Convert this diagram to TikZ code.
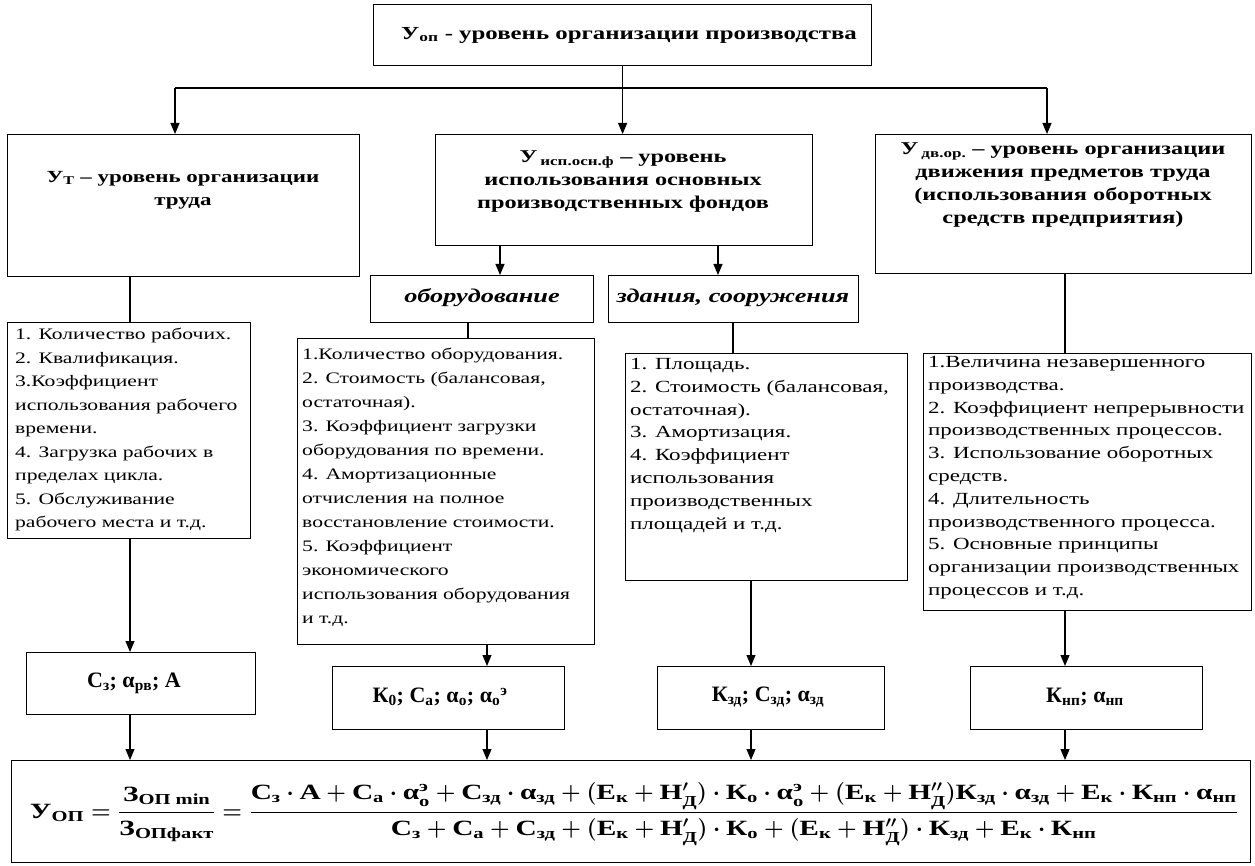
\documentclass[tikz,border=0pt]{standalone}
\usepackage{amsmath}
\usepackage{graphicx}
\usepackage{fontspec}
\setmainfont{Liberation Serif}[FakeStretch=1.35]
\newfontfamily\plainfont{Liberation Serif}
\usetikzlibrary{arrows.meta}
\newcommand{\tx}[1]{\text{#1}}
\begin{document}
\begin{tikzpicture}[x=1pt,y=-1pt,
  box/.style={draw, line width=1.2pt, inner sep=0pt, anchor=north west},
  arr/.style={line width=1.1pt, -{Triangle[length=11pt,width=9pt]}},
  ln/.style={line width=1.1pt},
  head/.style={font=\fontsize{18}{23}\selectfont\bfseries, align=center, inner sep=0pt},
  ital/.style={font=\fontsize{19.5}{23}\selectfont\bfseries\itshape, inner sep=0pt},
  lst/.style={align=left, anchor=north west, inner sep=0pt},
  res/.style={font=\plainfont\fontsize{22}{26}\selectfont\bfseries, inner sep=0pt}]
\fill[white] (0,0) rectangle (1255,866);
\useasboundingbox (0,0) rectangle (1255,866);
% boxes
\node[box, minimum width=498pt, minimum height=61pt] (T) at (373,4) {};
\node[box, minimum width=352pt, minimum height=142pt] (A) at (7,134) {};
\node[box, minimum width=377pt, minimum height=111pt] (B) at (435,134) {};
\node[box, minimum width=376pt, minimum height=139pt] (C) at (875,134) {};
\node[box, minimum width=223pt, minimum height=47pt] (I1) at (370,275) {};
\node[box, minimum width=250pt, minimum height=47pt] (I2) at (608,275) {};
\node[box, minimum width=243pt, minimum height=216pt] (L1) at (7,322) {};
\node[box, minimum width=297pt, minimum height=306pt] (L2) at (297,338) {};
\node[box, minimum width=282pt, minimum height=227pt] (L3) at (625,353) {};
\node[box, minimum width=328pt, minimum height=257pt] (L4) at (923,353) {};
\node[box, minimum width=229pt, minimum height=62pt] (P1) at (26,652) {};
\node[box, minimum width=232pt, minimum height=63pt] (P2) at (332,666) {};
\node[box, minimum width=227pt, minimum height=63pt] (P3) at (657,666) {};
\node[box, minimum width=232pt, minimum height=63pt] (P4) at (970,666) {};
\node[box, minimum width=1239pt, minimum height=102pt] (F) at (11,760) {};
% texts
\node[head, font=\fontsize{18.4}{21}\selectfont\bfseries] (Tt) at (629,35) {У\textsubscript{оп} - уровень организации производства};
\node[head, font=\fontsize{17}{23}\selectfont\bfseries] (At) at (183,190) {У\textsubscript{Т} – уровень организации\\труда};
\node[head] (Bt) at (623,182) {У\,\textsubscript{исп.осн.ф} – уровень\\использования основных\\производственных фондов};
\node[head] (Ct) at (1063,185) {У\,\textsubscript{дв.ор.} – уровень организации\\движения предметов труда\\(использования оборотных\\средств предприятия)};
\node[ital] (I1t) at (482,298) {оборудование};
\node[ital] (I2t) at (733,298) {здания, сооружения};
\node[lst, font=\fontsize{16}{23.5}\selectfont] (L1t) at (15,328) {1. Количество рабочих.\\2. Квалификация.\\3.Коэффициент\\использования рабочего\\времени.\\4. Загрузка рабочих в\\пределах цикла.\\5. Обслуживание\\рабочего места и т.д.};
\node[lst, font=\fontsize{16}{24}\selectfont] (L2t) at (302,348) {1.Количество оборудования.\\2. Стоимость (балансовая,\\остаточная).\\3. Коэффициент загрузки\\оборудования по времени.\\4. Амортизационные\\отчисления на полное\\восстановление стоимости.\\5. Коэффициент\\экономического\\использования оборудования\\и т.д.};
\node[lst, font=\fontsize{17}{22.8}\selectfont] (L3t) at (630,358) {1. Площадь.\\2. Стоимость (балансовая,\\остаточная).\\3. Амортизация.\\4. Коэффициент\\использования\\производственных\\площадей и т.д.};
\node[lst, font=\fontsize{17}{22.8}\selectfont] (L4t) at (928,356) {1.Величина незавершенного\\производства.\\2. Коэффициент непрерывности\\производственных процессов.\\3. Использование оборотных\\средств.\\4. Длительность\\производственного процесса.\\5. Основные принципы\\организации производственных\\процессов и т.д.};
\node[res] (P1t) at (134,683) {С\textsubscript{з}; α\textsubscript{рв}; А};
\node[res] (P2t) at (440,697) {К\textsubscript{0}; С\textsubscript{а}; α\textsubscript{о}; α\textsubscript{о}\textsuperscript{э}};
\node[res] (P3t) at (768,697) {К\textsubscript{зд}; С\textsubscript{зд}; α\textsubscript{зд}};
\node[res] (P4t) at (1085,697) {К\textsubscript{нп}; α\textsubscript{нп}};
\node[res, font=\fontsize{20}{24}\selectfont\bfseries] (Ft) at (634,814) {\resizebox{1208pt}{!}{\boldmath$\displaystyle
 \tx{У}_{\tx{ОП}} = \frac{\tx{З}_{\tx{ОП min}}}{\tx{З}_{\tx{ОПфакт}}} =
 \frac{\tx{С}_{\tx{з}}\cdot\tx{А} + \tx{С}_{\tx{а}}\cdot\tx{α}_{\tx{о}}^{\tx{э}} + \tx{С}_{\tx{зд}}\cdot\tx{α}_{\tx{зд}} + (\tx{Е}_{\tx{к}} + \tx{Н}'_{\tx{Д}})\cdot\tx{К}_{\tx{о}}\cdot\tx{α}_{\tx{о}}^{\tx{э}} + (\tx{Е}_{\tx{к}} + \tx{Н}''_{\tx{Д}})\tx{К}_{\tx{зд}}\cdot\tx{α}_{\tx{зд}} + \tx{Е}_{\tx{к}}\cdot\tx{К}_{\tx{нп}}\cdot\tx{α}_{\tx{нп}}}
 {\tx{С}_{\tx{з}} + \tx{С}_{\tx{а}} + \tx{С}_{\tx{зд}} + (\tx{Е}_{\tx{к}} + \tx{Н}'_{\tx{Д}})\cdot\tx{К}_{\tx{о}} + (\tx{Е}_{\tx{к}} + \tx{Н}''_{\tx{Д}})\cdot\tx{К}_{\tx{зд}} + \tx{Е}_{\tx{к}}\cdot\tx{К}_{\tx{нп}}}$}};
% connectors
\coordinate (hl) at (175,88);
\coordinate (hr) at (1047,88);
\coordinate (m1) at (500,0);
\coordinate (m2) at (718,0);
\coordinate (c1) at (130,0);
\coordinate (c2a) at (468,0);
\coordinate (c2) at (487,0);
\coordinate (c3a) at (733,0);
\coordinate (c3) at (751,0);
\coordinate (c4) at (1065,0);
\draw[ln] (hl) -- (hr);
\draw[arr] (T.south) -- (T.south |- B.north);
\draw[arr] (hl) -- (hl |- A.north);
\draw[arr] (hr) -- (hr |- C.north);
\draw[arr] (m1 |- B.south) -- (m1 |- I1.north);
\draw[arr] (m2 |- B.south) -- (m2 |- I2.north);
\draw[ln] (c1 |- A.south) -- (c1 |- L1.north);
\draw[arr] (c1 |- L1.south) -- (c1 |- P1.north);
\draw[arr] (c1 |- P1.south) -- (c1 |- F.north);
\draw[ln] (c2a |- I1.south) -- (c2a |- L2.north);
\draw[arr] (c2 |- L2.south) -- (c2 |- P2.north);
\draw[arr] (c2 |- P2.south) -- (c2 |- F.north);
\draw[ln] (c3a |- I2.south) -- (c3a |- L3.north);
\draw[arr] (c3 |- L3.south) -- (c3 |- P3.north);
\draw[arr] (c3 |- P3.south) -- (c3 |- F.north);
\draw[ln] (c4 |- C.south) -- (c4 |- L4.north);
\draw[arr] (c4 |- L4.south) -- (c4 |- P4.north);
\draw[arr] (c4 |- P4.south) -- (c4 |- F.north);
\end{tikzpicture}
\end{document}
